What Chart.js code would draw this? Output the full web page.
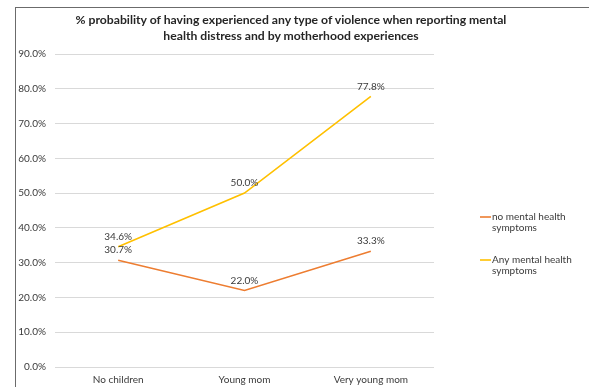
<!DOCTYPE html>
<html>
<head>
<meta charset="utf-8">
<script src="https://cdn.jsdelivr.net/npm/chart.js@4.4.1/dist/chart.umd.min.js"></script>
<style>
  html, body { margin: 0; padding: 0; background: #fff; overflow: hidden; }
  #wrap { position: relative; width: 589px; height: 387px; }
  #frame { position: absolute; left: 15px; top: 7px; width: 700px; height: 500px;
           border-left: 1px solid #6b6b6b; border-top: 1px solid #6b6b6b; }
  #title { position: absolute; left: 16px; width: 550px; top: 12px; text-align: center;
           font: bold 12.2px Lato, sans-serif; line-height: 16px; color: #262626; }
  canvas { position: absolute; left: 0; top: 0; }
</style>
</head>
<body>
<div id="wrap">
  <div id="frame"></div>
  <canvas id="chart" width="589" height="387"></canvas>
  <div id="title">% probability of having experienced any type of violence when reporting mental<br>health distress and by motherhood experiences</div>
</div>
<script>
const categories = ['No children', 'Young mom', 'Very young mom'];
const seriesNames = ['no mental health symptoms', 'Any mental health symptoms'];
const noSymptoms = [30.7, 22.0, 33.3];
const anySymptoms = [34.6, 50.0, 77.8];
const colors = ['#ED7D31', '#FFC000'];

const textColor = '#3a3a3a';
const tickFont = { family: 'Lato, sans-serif', size: 10 };

// value labels above each point
const pointLabels = {
  id: 'pointLabels',
  afterDatasetsDraw(chart) {
    const ctx = chart.ctx;
    ctx.save();
    ctx.font = '10px Lato, sans-serif';
    ctx.fillStyle = textColor;
    ctx.textAlign = 'center';
    ctx.textBaseline = 'middle';
    chart.data.datasets.forEach((ds, i) => {
      chart.getDatasetMeta(i).data.forEach((pt, j) => {
        ctx.fillText(ds.data[j].toFixed(1) + '%', pt.x, pt.y - 10);
      });
    });
    ctx.restore();
  }
};

// legend on the right, wrapped onto two lines
const sideLegend = {
  id: 'sideLegend',
  afterDraw(chart) {
    const ctx = chart.ctx;
    ctx.save();
    ctx.font = '10px Lato, sans-serif';
    ctx.textBaseline = 'middle';
    const startY = [217, 260];
    chart.data.datasets.forEach((ds, i) => {
      const words = ds.label.split(' ');
      const lines = [words.slice(0, -1).join(' '), words[words.length - 1]];
      const y = startY[i];
      ctx.strokeStyle = ds.borderColor;
      ctx.lineWidth = 1.6;
      ctx.beginPath();
      ctx.moveTo(480, y);
      ctx.lineTo(491, y);
      ctx.stroke();
      ctx.fillStyle = textColor;
      lines.forEach((ln, k) => ctx.fillText(ln, 492, y + k * 11));
    });
    ctx.restore();
  }
};

new Chart(document.getElementById('chart'), {
  type: 'line',
  data: {
    labels: categories,
    datasets: [
      { label: seriesNames[0], data: noSymptoms, borderColor: colors[0], backgroundColor: colors[0],
        borderWidth: 1.6, pointRadius: 0, tension: 0 },
      { label: seriesNames[1], data: anySymptoms, borderColor: colors[1], backgroundColor: colors[1],
        borderWidth: 1.6, pointRadius: 0, tension: 0 }
    ]
  },
  options: {
    responsive: false,
    animation: false,
    layout: { padding: { top: 54, right: 155, left: 0, bottom: 0 } },
    plugins: {
      legend: { display: false },
      title: { display: false },
      tooltip: { enabled: false }
    },
    scales: {
      x: {
        offset: true,
        grid: { display: false, drawTicks: false },
        border: { display: false },
        ticks: { color: textColor, font: tickFont, padding: 7, maxRotation: 0 },
        afterFit: (s) => { s.height = 20; }
      },
      y: {
        min: 0,
        max: 90,
        grid: { color: '#d9d9d9', lineWidth: 1, drawTicks: false },
        border: { display: false },
        ticks: { stepSize: 10, color: textColor, font: tickFont, padding: 9,
                 callback: (v) => v.toFixed(1) + '%' },
        afterFit: (s) => { s.width = 55; }
      }
    }
  },
  plugins: [pointLabels, sideLegend]
});
</script>
</body>
</html>
